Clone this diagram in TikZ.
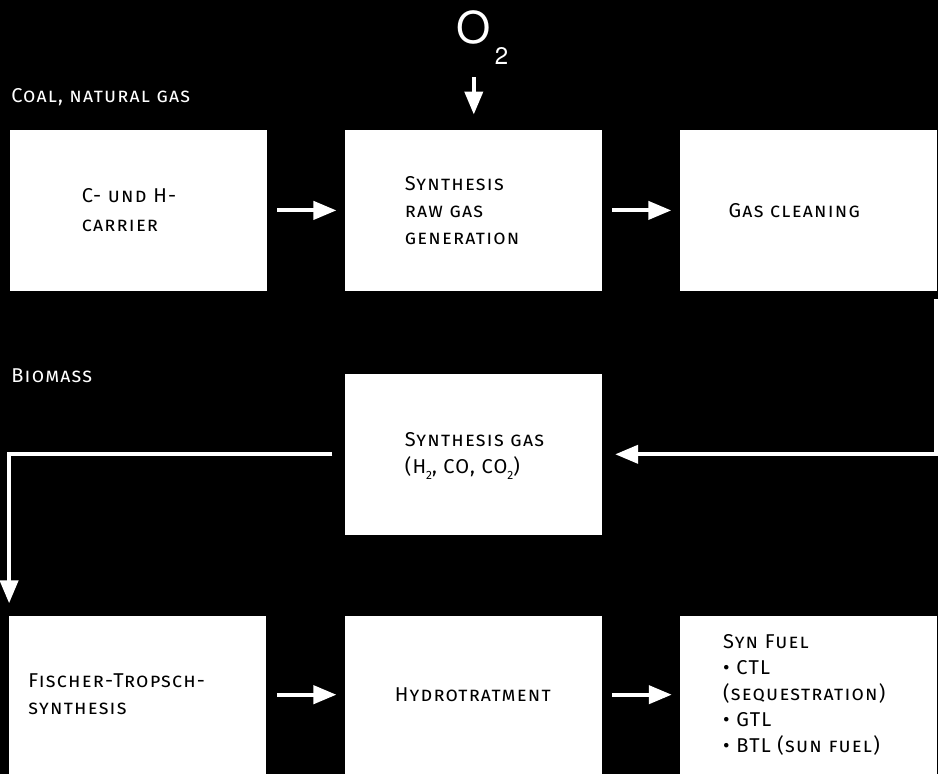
\documentclass[tikz,border=0pt]{standalone}
\usepackage{fontspec}
\setmainfont{Fira Sans}[LetterSpace=6]
\newfontfamily\helv{TeX Gyre Heros}
\usetikzlibrary{arrows.meta}

% low index for the gas formulas
\newcommand{\subtwo}{\smash{\raisebox{-3pt}{\fontsize{6}{6}\selectfont 2}}}

\begin{document}
\begin{tikzpicture}[x=0.5pt, y=-0.5pt,
    font=\fontsize{10}{13.5}\selectfont\scshape,
    box/.style={fill=white, text=black, minimum width=128.5pt, minimum height=80.5pt, inner ysep=0pt, align=left},
    flow/.style={draw=white, line width=2pt, -{Triangle[length=11.5pt, width=9pt]}},
    feed/.style={text=white, inner sep=0pt, anchor=base west}]

    \fill[black] (0,0) rectangle (938,774);

    % top row
    \node[box, inner xsep=36pt, text width=56.5pt, font=\fontsize{10}{14.5}\selectfont\scshape] (carrier) at (138.5,210.5) {C- und H-\\carrier};
    \node[box, inner xsep=30pt, text width=68.5pt] (rawgas) at (473.5,210.5) {Synthesis\\raw gas\\generation};
    \node[box, inner xsep=24.5pt, text width=79.5pt] (clean) at (808.5,210.5) {Gas~cleaning};

    % middle
    \node[box, inner xsep=30pt, text width=68.5pt] (syngas) at (473.5,454.5) {Synthesis~gas\\(H\subtwo, CO, CO\subtwo)};

    % bottom row
    \node[box, inner xsep=9.5pt, text width=109.5pt, minimum height=79pt] (ft) at (138,695) {Fischer-Tropsch-\\synthesis};
    \node[box, inner xsep=25pt, text width=78.5pt, minimum height=79pt] (hydro) at (473.5,695) {Hydrotratment};
    \node[box, inner xsep=21.5pt, text width=85.5pt, minimum height=79pt, font=\fontsize{10}{13}\selectfont\scshape] (synfuel) at (809,695) {Syn~Fuel\\• CTL\\(sequestration)\\• GTL\\• BTL~(sun~fuel)};

    % feeds
    \node[feed] (coal) at (11,103) {Coal, natural gas};
    \node[feed] (biomass) at (11,383) {Biomass};
    \node[text=white, inner sep=0pt, font=\helv\fontsize{22}{22}\selectfont] (oxygen) at (474,27) {O\rlap{\smash{\raisebox{-10.5pt}{\fontsize{12}{12}\selectfont\hspace{2pt}2}}}};

    \draw[flow, shorten <=16.5pt, shorten >=7.5pt] (oxygen.south) -- (oxygen.south |- rawgas.north);
    \draw[flow, shorten <=5pt, shorten >=4pt] (carrier) -- (rawgas);
    \draw[flow, shorten <=5pt, shorten >=4pt] (rawgas) -- (clean);
    \draw[flow, shorten >=6.5pt] ([xshift=-0.5pt, yshift=-4pt]clean.south east) |- (syngas);
    \draw[flow, shorten <=6pt, shorten >=6pt] (syngas) -| (ft.north west);
    \draw[flow, shorten <=5pt, shorten >=4pt] (ft) -- (hydro);
    \draw[flow, shorten <=5pt, shorten >=4pt] (hydro) -- (synfuel);
\end{tikzpicture}
\end{document}
